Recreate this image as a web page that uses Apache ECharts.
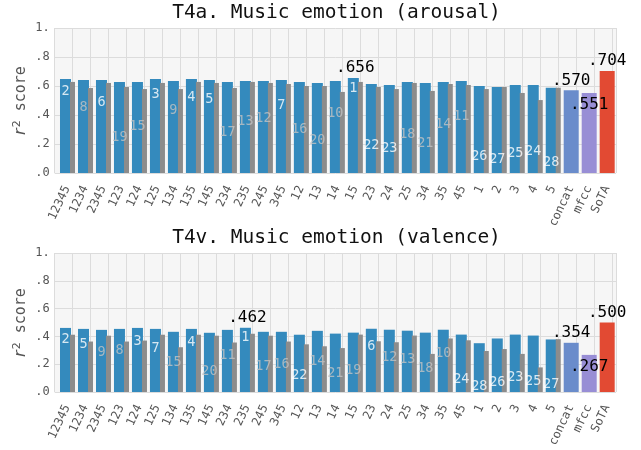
<!DOCTYPE html>
<html>
<head>
<meta charset="utf-8">
<script src="https://cdn.jsdelivr.net/npm/echarts@6/dist/echarts.min.js"></script>
<style>
  html, body { margin: 0; background: #fff; }
  #chart { width: 641px; height: 450px; }
</style>
</head>
<body>
<div id="chart"></div>
<script>
// feature subsets
var names = ['12345', '1234', '2345', '123', '124', '125', '134', '135', '145', '234', '235', '245', '345',
  '12', '13', '14', '15', '23', '24', '25', '34', '35', '45', '1', '2', '3', '4', '5'];
var extraNames = ['concat', 'mfcc', 'SoTA'];
var yTickLabels = ['.0', '.2', '.4', '.6', '.8', '1.'];

// T4a arousal
var arousalBlue = [0.648, 0.641, 0.641, 0.628, 0.628, 0.648, 0.634, 0.648, 0.641, 0.628, 0.634, 0.634, 0.641,
  0.628, 0.621, 0.634, 0.656, 0.614, 0.607, 0.628, 0.621, 0.628, 0.634, 0.600, 0.593, 0.607, 0.607, 0.588];
var arousalGrey = [0.628, 0.586, 0.621, 0.593, 0.579, 0.621, 0.579, 0.628, 0.621, 0.586, 0.628, 0.621, 0.614,
  0.600, 0.600, 0.559, 0.628, 0.593, 0.579, 0.621, 0.566, 0.614, 0.607, 0.579, 0.593, 0.552, 0.503, 0.588];
var arousalRank = [2, 8, 6, 19, 15, 3, 9, 4, 5, 17, 13, 12, 7, 16, 20, 10, 1, 22, 23, 18, 21, 14, 11, 26, 27, 25, 24, 28];
var arousalTone = ['w', 'g', 'w', 'g', 'g', 'w', 'g', 'w', 'w', 'g', 'g', 'g', 'w', 'g', 'g', 'g', 'w', 'w', 'w', 'g',
  'g', 'g', 'g', 'w', 'w', 'w', 'w', 'w'];
var arousalExtra = [0.570, 0.551, 0.704];

// T4v valence
var valenceBlue = [0.461, 0.454, 0.447, 0.454, 0.461, 0.454, 0.433, 0.454, 0.426, 0.447, 0.462, 0.433, 0.433,
  0.412, 0.440, 0.420, 0.427, 0.455, 0.448, 0.441, 0.427, 0.448, 0.413, 0.351, 0.385, 0.413, 0.406, 0.378];
var valenceGrey = [0.412, 0.363, 0.405, 0.363, 0.370, 0.412, 0.322, 0.412, 0.405, 0.356, 0.419, 0.405, 0.363,
  0.343, 0.329, 0.316, 0.413, 0.365, 0.358, 0.406, 0.274, 0.385, 0.372, 0.295, 0.309, 0.274, 0.177, 0.380];
var valenceRank = [2, 5, 9, 8, 3, 7, 15, 4, 20, 11, 1, 17, 16, 22, 14, 21, 19, 6, 12, 13, 18, 10, 24, 28, 26, 23, 25, 27];
var valenceTone = ['w', 'w', 'g', 'g', 'w', 'w', 'g', 'w', 'g', 'g', 'w', 'g', 'g', 'w', 'g', 'g', 'g', 'w', 'g', 'g',
  'g', 'g', 'w', 'w', 'w', 'w', 'w', 'w'];
var valenceExtra = [0.354, 0.267, 0.500];

var allNames = names.concat(extraNames);
var mono = 'DejaVu Sans Mono';
var gridColor = '#dcdcdc';
var extraColors = ['#6a8ccb', '#988ED5', '#E24A33'];
var extraLabelPos = ['top', 'insideTop', 'top'];

function fmt(v) { return v.toFixed(3).replace(/^0/, ''); }

var panels = [
  {title: 'T4a. Music emotion (arousal)', top: 28, height: 145, titleTop: 3,
   blue: arousalBlue, grey: arousalGrey, rank: arousalRank, tone: arousalTone, extra: arousalExtra,
   rankTop: 0.58, rankStep: 0.0187},
  {title: 'T4v. Music emotion (valence)', top: 253, height: 144, titleTop: 228,
   blue: valenceBlue, grey: valenceGrey, rank: valenceRank, tone: valenceTone, extra: valenceExtra,
   rankTop: 0.392, rankStep: 0.01304}
];

var option = {animation: false, title: [], grid: [], xAxis: [], yAxis: [], series: []};

panels.forEach(function (p, k) {
  option.title.push({
    text: p.title, left: 336.5, top: p.titleTop, textAlign: 'center', padding: 0,
    textStyle: {fontFamily: mono, fontSize: 19.5, fontWeight: 'normal', color: '#111'}
  });
  option.grid.push({
    left: 54.7, right: 25, top: p.top, height: p.height,
    show: true, backgroundColor: '#f6f6f6', borderWidth: 0
  });
  // visible axis carries labels and vertical grid lines
  option.xAxis.push({
    type: 'value', gridIndex: k, min: -1, max: 30.2, interval: 1,
    axisLine: {show: false}, axisTick: {show: false},
    splitLine: {show: true, lineStyle: {color: gridColor, width: 1}},
    axisLabel: {
      rotate: 65, margin: 16, align: 'right', verticalAlign: 'bottom',
      fontFamily: mono, fontSize: 12, color: '#555',
      formatter: function (v) {
        var r = Math.round(v);
        return (Math.abs(v - r) < 1e-6 && r >= 0 && r < allNames.length) ? allNames[r] : '';
      }
    }
  });
  // hidden twins so each bar series is laid out on its own
  for (var h = 0; h < 2; h++) {
    option.xAxis.push({type: 'value', gridIndex: k, min: -1, max: 30.2, show: false,
      splitLine: {show: false}});
  }
  option.yAxis.push({
    type: 'value', gridIndex: k, min: 0, max: 1, interval: 0.2,
    axisLine: {show: false}, axisTick: {show: false},
    splitLine: {show: true, lineStyle: {color: gridColor, width: 1}},
    axisLabel: {
      margin: 5, fontFamily: mono, fontSize: 12, color: '#555',
      formatter: function (v) { return yTickLabels[Math.round(v / 0.2)]; }
    },
    name: '{i|r}{s|2} score', nameLocation: 'middle', nameGap: 24, nameMoveOverlap: false,
    nameTextStyle: {
      fontFamily: mono, fontSize: 15, color: '#555',
      rich: {
        i: {fontFamily: 'DejaVu Sans', fontStyle: 'italic', fontSize: 16, color: '#555'},
        s: {fontFamily: 'DejaVu Sans', fontSize: 11, color: '#555', verticalAlign: 'top', padding: [0, 0, 8, 1]}
      }
    }
  });

  var best = p.blue.indexOf(Math.max.apply(null, p.blue));
  var xi = k * 3;

  option.series.push({
    type: 'bar', xAxisIndex: xi, yAxisIndex: k, barWidth: 11, z: 2,
    itemStyle: {color: '#348ABD'},
    data: p.blue.map(function (v, i) {
      var d = {value: [i - 0.4, v]};
      if (i === best) {
        d.label = {show: true, position: 'top', distance: 2, offset: [2, 0], formatter: fmt(v),
          fontFamily: mono, fontSize: 16, color: '#000'};
      }
      return d;
    })
  });
  option.series.push({
    type: 'bar', xAxisIndex: xi + 1, yAxisIndex: k, barWidth: 5, z: 3,
    itemStyle: {color: '#8c8c8c'},
    data: p.grey.map(function (v, i) { return [i - 0.01, v]; })
  });
  option.series.push({
    type: 'bar', xAxisIndex: xi + 2, yAxisIndex: k, barWidth: 15, z: 3,
    data: p.extra.map(function (v, j) {
      return {
        value: [names.length + j - 0.29, v],
        itemStyle: {color: extraColors[j]},
        label: {show: true, position: extraLabelPos[j], distance: extraLabelPos[j] === 'top' ? 2 : 4,
          formatter: fmt(v), fontFamily: mono, fontSize: 16, color: '#000'}
      };
    })
  });
  option.series.push({
    type: 'scatter', xAxisIndex: xi, yAxisIndex: k, symbolSize: 1, z: 5,
    itemStyle: {color: 'rgba(0,0,0,0)'},
    data: p.rank.map(function (r, i) {
      return {
        value: [i - 0.4, p.rankTop - (r - 1) * p.rankStep],
        label: {show: true, position: 'inside', formatter: String(r),
          fontFamily: mono, fontSize: 13.5, color: p.tone[i] === 'w' ? '#ffffff' : '#c3c3c3'}
      };
    })
  });
});

var chart = echarts.init(document.getElementById('chart'));
chart.setOption(option);
</script>
</body>
</html>
